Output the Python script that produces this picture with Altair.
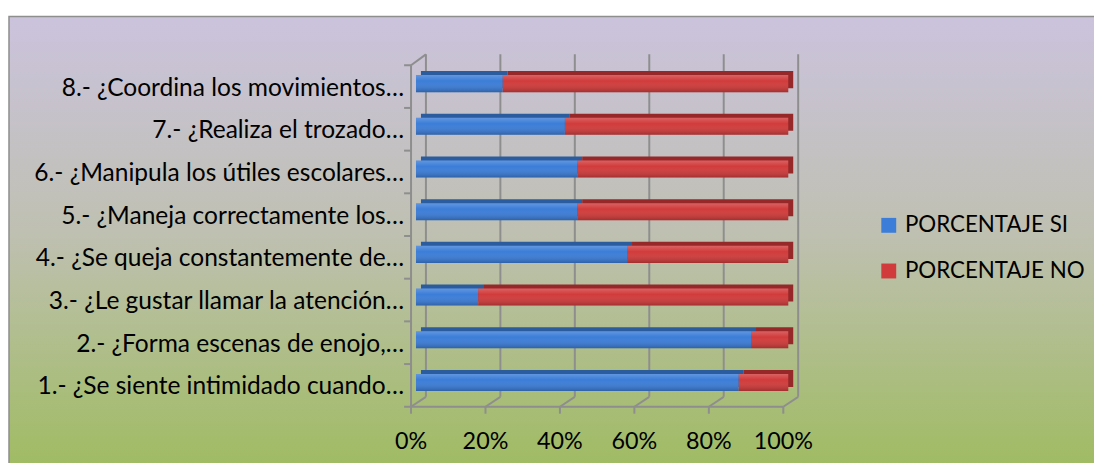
import altair as alt
import pandas as pd

questions = [
    "1.- ¿Se siente intimidado cuando…",
    "2.- ¿Forma escenas de enojo,…",
    "3.- ¿Le gustar llamar la atención…",
    "4.- ¿Se queja constantemente de…",
    "5.- ¿Maneja correctamente los…",
    "6.- ¿Manipula los útiles escolares…",
    "7.- ¿Realiza el trozado…",
    "8.- ¿Coordina los movimientos…",
]
si = [86.7, 90.0, 16.7, 56.7, 43.3, 43.3, 40.0, 23.3]
no = [13.3, 10.0, 83.3, 43.3, 56.7, 56.7, 60.0, 76.7]
series = ["PORCENTAJE SI", "PORCENTAJE NO"]
colors = ["#3B7DD8", "#D13B3B"]
dark = ["#2B5C9E", "#962829"]
ticks = [0, 0.2, 0.4, 0.6, 0.8, 1.0]
tick_labels = ["0%", "20%", "40%", "60%", "80%", "100%"]

rows = []
for q, a, b in zip(questions, si, no):
    rows.append(dict(q=q, s=series[0], v=a, o=0, dark=dark[0]))
    rows.append(dict(q=q, s=series[1], v=b, o=1, dark=dark[1]))
df = pd.DataFrame(rows)
qdf = pd.DataFrame({"q": questions})
one = pd.DataFrame({"a": [0]})
tdf = pd.DataFrame({"t": ticks, "lab": tick_labels})

W, H = 375, 344
GRAY = "#8E8E8E"
FONT = "Lato"

order = questions[::-1]
ysc = alt.Scale(paddingInner=0.6, paddingOuter=0.3)
xsc = alt.Scale(domain=[0, 1], nice=False)

bg_grad = alt.Gradient(
    gradient="linear",
    stops=[
        alt.GradientStop(color="#CBC3DD", offset=0),
        alt.GradientStop(color="#BFC0B2", offset=0.45),
        alt.GradientStop(color="#9CBB5A", offset=1),
    ],
    x1=0, y1=0, x2=0, y2=1,
)
bar_grad = alt.Gradient(
    gradient="linear",
    stops=[
        alt.GradientStop(color="rgba(255,255,255,0.20)", offset=0),
        alt.GradientStop(color="rgba(255,255,255,0)", offset=0.35),
        alt.GradientStop(color="rgba(0,0,0,0.22)", offset=1),
    ],
    x1=0, y1=0, x2=0, y2=1,
)

bg = alt.Chart(one).mark_rect(fill=bg_grad, stroke=GRAY, strokeWidth=1.5).encode(
    x=alt.value(-405), x2=alt.value(700), y=alt.value(-49), y2=alt.value(430)
)

xt = alt.X("t:Q", scale=xsc, axis=None)
grid_v = alt.Chart(tdf).mark_rule(color=GRAY, strokeWidth=2, xOffset=15).encode(
    x=xt, y=alt.value(-11), y2=alt.value(H - 10)
)
grid_d = alt.Chart(tdf).mark_rule(color=GRAY, strokeWidth=2, xOffset=15, x2Offset=0).encode(
    x=xt, x2="t:Q", y=alt.value(H - 10), y2=alt.value(H)
)
xticks = alt.Chart(tdf).mark_rule(color=GRAY, strokeWidth=2).encode(
    x=xt, y=alt.value(H), y2=alt.value(H + 7)
)
xlabels = alt.Chart(tdf).mark_text(
    font=FONT, fontSize=23.5, color="black", baseline="middle", align="center"
).encode(x=xt, y=alt.value(H + 36), text="lab:N")
floor = alt.Chart(one).mark_rule(color=GRAY, strokeWidth=2).encode(
    x=alt.value(-7), x2=alt.value(W), y=alt.value(H)
)
wall = alt.Chart(one).mark_rule(color=GRAY, strokeWidth=2).encode(
    x=alt.value(0), y=alt.value(0), y2=alt.value(H)
)
wall_top = alt.Chart(one).mark_rule(color=GRAY, strokeWidth=2).encode(
    x=alt.value(0), x2=alt.value(15), y=alt.value(0), y2=alt.value(-11)
)

xenc = alt.X("v:Q", stack="normalize", scale=xsc, axis=None)
yenc = alt.Y("q:N", sort=order, scale=ysc, axis=None)
oenc = alt.Order("o:Q")

lt = alt.Chart(qdf).mark_rule(color=GRAY, strokeWidth=2, yOffset=-21.5).encode(
    y=yenc, x=alt.value(-7), x2=alt.value(0)
)
ylabels = alt.Chart(qdf).mark_text(
    font=FONT, fontSize=24.7, color="black", align="right", baseline="middle", yOffset=2
).encode(y=yenc, x=alt.value(-7), text="q:N")

depth = alt.Chart(df).mark_bar(xOffset=10, x2Offset=10, yOffset=-7, y2Offset=-7).encode(
    x=xenc, y=yenc, order=oenc, color=alt.Color("dark:N", scale=None)
)

main = alt.Chart(df).mark_bar(xOffset=5, x2Offset=5, yOffset=-3, y2Offset=-3).encode(
    x=xenc,
    y=yenc,
    order=oenc,
    color=alt.Color(
        "s:N",
        scale=alt.Scale(domain=series, range=colors),
        legend=alt.Legend(
            title=None, orient="none", legendX=470, legendY=150,
            symbolType="square", symbolSize=225, symbolStrokeWidth=0,
            labelFont=FONT, labelFontSize=22.5, labelColor="black", labelLimit=400,
            rowPadding=23, labelOffset=5, zindex=1,
        ),
    ),
)

overlay = alt.Chart(df).mark_bar(xOffset=5, x2Offset=5, yOffset=-3, y2Offset=-3, fill=bar_grad).encode(
    x=xenc, y=yenc, order=oenc
)

chart = alt.layer(
    bg, grid_v, grid_d, floor, xticks, wall, wall_top, lt, depth, main, overlay, xlabels, ylabels
).properties(
    width=W, height=H,
    padding={"left": 406, "top": 56, "right": 313, "bottom": 55},
    autosize=alt.AutoSizeParams(type="none"),
).configure_view(stroke=None)

chart.save("out.html", embed_options={"renderer": "svg", "actions": False})
